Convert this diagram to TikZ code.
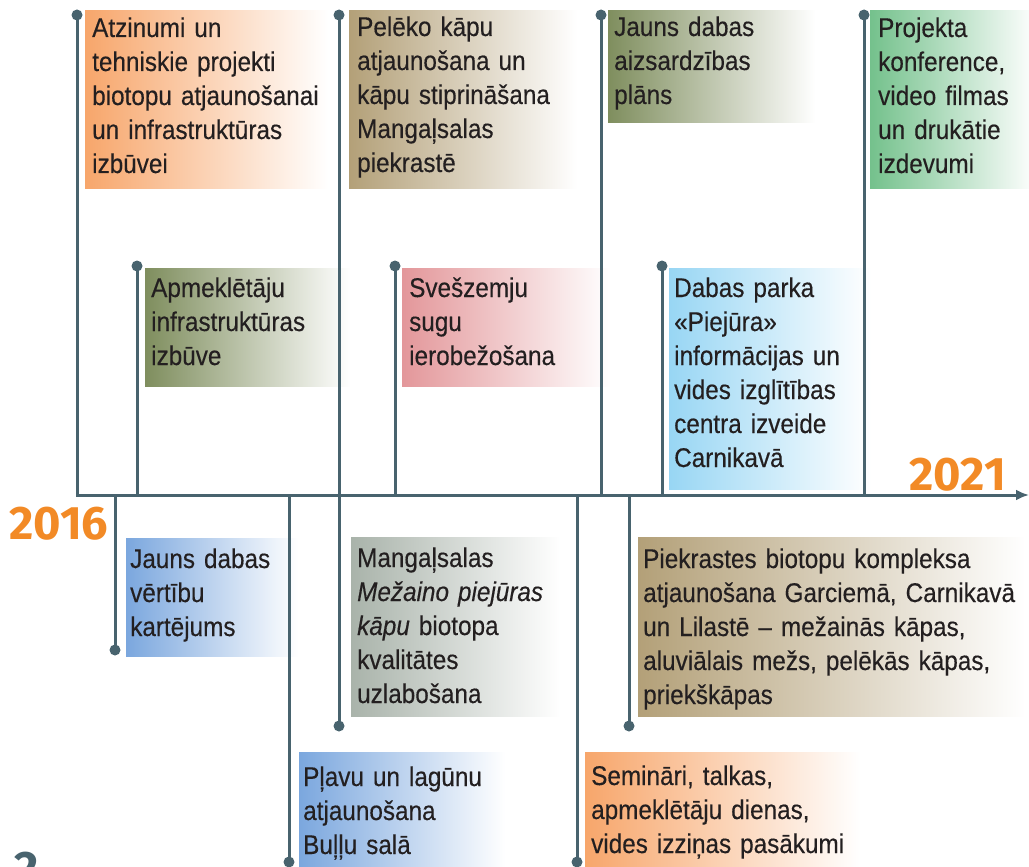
\documentclass[tikz,border=0pt]{standalone}
\usepackage{fontspec}
\setmainfont{Liberation Sans}[FakeStretch=0.9, FakeBold=0.3]
\newfontfamily\yearfont{Fira Sans}
\usepackage{xcolor}
\usetikzlibrary{arrows.meta}
\definecolor{tslate}{HTML}{48636E}
\definecolor{tink}{HTML}{231F20}
\definecolor{torange}{HTML}{F28A26}
\definecolor{tpeach}{HTML}{F7A66B}
\definecolor{tolive}{HTML}{7F8E5E}
\definecolor{ttan}{HTML}{B3A078}
\definecolor{trose}{HTML}{E3979A}
\definecolor{tsky}{HTML}{98D6F4}
\definecolor{tgreen}{HTML}{74C18C}
\definecolor{tblue}{HTML}{7BA7DE}
\definecolor{tsage}{HTML}{A9B3AA}
\tikzset{
	stem/.style={color=tslate, line width=3pt},
	pin/.style={circle, fill=tslate, inner sep=0pt, minimum size=11pt},
	card/.style={anchor=north west, inner sep=0pt, right color=white},
	cardtext/.style={anchor=base west, align=left, inner sep=0pt, text width=400pt, text=tink, font=\fontsize{27}{34}\selectfont},
	year/.style={inner sep=0pt, font=\yearfont\bfseries\fontsize{47}{47}\selectfont}
}

\begin{document}
\begin{tikzpicture}[x=1pt, y=-1pt]
		\useasboundingbox (0,0) rectangle (1029,867);
		\node[card, left color=tpeach, minimum width=243pt, minimum height=178pt] (b1) at (85,10) {};
		\node[card, left color=tolive, minimum width=205pt, minimum height=118pt] (b2) at (145,268) {};
		\node[card, left color=ttan, minimum width=228pt, minimum height=178pt] (b3) at (349,10) {};
		\node[card, left color=tolive, minimum width=207pt, minimum height=112pt] (b4) at (608,10) {};
		\node[card, left color=trose, minimum width=208pt, minimum height=118pt] (b5) at (402,268) {};
		\node[card, left color=tsky, minimum width=202pt, minimum height=221pt] (b6) at (669,268) {};
		\node[card, left color=tgreen, minimum width=166pt, minimum height=178pt] (b7) at (870,10) {};
		\node[card, left color=tblue, minimum width=172pt, minimum height=118pt] (b8) at (126,538) {};
		\node[card, left color=tsage, minimum width=209pt, minimum height=179pt] (b9) at (351,537) {};
		\node[card, left color=ttan, minimum width=387pt, minimum height=179pt] (b10) at (638,537) {};
		\node[card, left color=tblue, minimum width=206pt, minimum height=125pt] (b11) at (299,752) {};
		\node[card, left color=tpeach, minimum width=275pt, minimum height=125pt] (b12) at (585,752) {};
		\node[cardtext] (t1) at ([shift={(7,27)}]b1.north west) {Atzinumi un\\tehniskie projekti\\biotopu atjaunošanai\\un infrastruktūras\\izbūvei};
		\node[cardtext] (t2) at ([shift={(6,29)}]b2.north west) {Apmeklētāju\\infrastruktūras\\izbūve};
		\node[cardtext] (t3) at ([shift={(8,26)}]b3.north west) {Pelēko kāpu\\atjaunošana un\\kāpu stiprināšana\\Mangaļsalas\\piekrastē};
		\node[cardtext] (t4) at ([shift={(6,26)}]b4.north west) {Jauns dabas\\aizsardzības\\plāns};
		\node[cardtext] (t5) at ([shift={(7,29)}]b5.north west) {Svešzemju\\sugu\\ierobežošana};
		\node[cardtext] (t6) at ([shift={(5,29)}]b6.north west) {Dabas parka\\«Piejūra»\\informācijas un\\vides izglītības\\centra izveide\\Carnikavā};
		\node[cardtext] (t7) at ([shift={(8,27)}]b7.north west) {Projekta\\konference,\\video filmas\\un drukātie\\izdevumi};
		\node[cardtext] (t8) at ([shift={(4,30)}]b8.north west) {Jauns dabas\\vērtību\\kartējums};
		\node[cardtext] (t9) at ([shift={(6,30)}]b9.north west) {Mangaļsalas\\\textit{Mežaino piejūras}\\\textit{kāpu} biotopa\\kvalitātes\\uzlabošana};
		\node[cardtext] (t10) at ([shift={(5,31)}]b10.north west) {Piekrastes biotopu kompleksa\\atjaunošana Garciemā, Carnikavā\\un Lilastē – mežainās kāpas,\\aluviālais mežs, pelēkās kāpas,\\priekškāpas};
		\node[cardtext] (t11) at ([shift={(4,34)}]b11.north west) {Pļavu un lagūnu\\atjaunošana\\Buļļu salā};
		\node[cardtext] (t12) at ([shift={(6,33)}]b12.north west) {Semināri, talkas,\\apmeklētāju dienas,\\vides izziņas pasākumi};
		\node[pin] (p1) at (77,15) {};
		\node[pin] (p2) at (137,266) {};
		\node[pin] (p3) at (339,15) {};
		\node[pin] (p4) at (601,15) {};
		\node[pin] (p5) at (395,266) {};
		\node[pin] (p6) at (662,266) {};
		\node[pin] (p7) at (864,15) {};
		\node[pin] (q1) at (115,650) {};
		\node[pin] (q2) at (289,862) {};
		\node[pin] (q3) at (339,726) {};
		\node[pin] (q4) at (577,862) {};
		\node[pin] (q5) at (629,726) {};
		\coordinate (tip) at (1029,495);
		\draw[stem, -{Latex[length=13pt, width=11pt]}] (p1.center) |- (tip);
		\draw[stem] (p2.center) -- (p2 |- tip);
		\draw[stem] (p3.center) -- (q3.center);
		\draw[stem] (p4.center) -- (p4 |- tip);
		\draw[stem] (p5.center) -- (p5 |- tip);
		\draw[stem] (p6.center) -- (p6 |- tip);
		\draw[stem] (p7.center) -- (p7 |- tip);
		\draw[stem] (q1.center) -- (q1 |- tip);
		\draw[stem] (q2.center) -- (q2 |- tip);
		\draw[stem] (q4.center) -- (q4 |- tip);
		\draw[stem] (q5.center) -- (q5 |- tip);
		\node[year, text=torange, anchor=base west] (y16) at (9,539) {2016};
		\node[year, text=torange, anchor=base east] (y21) at (1006,490) {2021};
		\node[year, text=tslate, anchor=base west] (pg) at (14,884) {2};
	\end{tikzpicture}
\end{document}
